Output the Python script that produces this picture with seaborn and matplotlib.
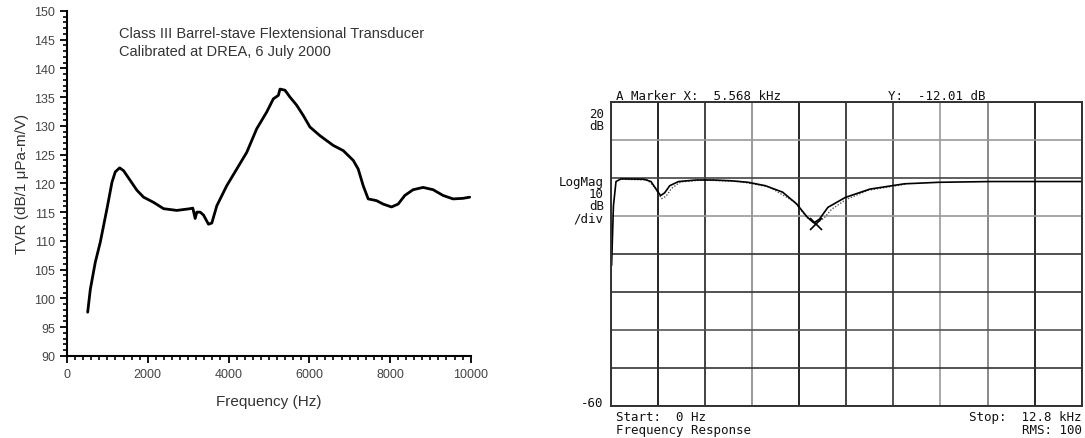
import numpy as np
import pandas as pd
import matplotlib
matplotlib.use('Agg')
import matplotlib.pyplot as plt
import seaborn as sns
from matplotlib.ticker import MultipleLocator

# Courbe TVR mesurée (panneau gauche)
tvr_freq = [511, 577, 700, 824, 989, 1113, 1195, 1303, 1401, 1566, 1731, 1896,
            2143, 2391, 2720, 3050, 3116, 3174, 3215, 3298, 3380, 3504, 3586,
            3710, 3957, 4205, 4452, 4699, 4946, 5111, 5235, 5276, 5400, 5523,
            5688, 5853, 6018, 6265, 6595, 6842, 7090, 7213, 7337, 7461, 7667,
            7832, 8038, 8203, 8368, 8574, 8821, 9069, 9316, 9563, 9810, 9975]
tvr_db = [97.6, 101.6, 106.3, 109.8, 115.6, 120.2, 122.0, 122.7, 122.2, 120.5,
          118.8, 117.6, 116.7, 115.6, 115.3, 115.6, 115.7, 113.9, 115.0, 115.0,
          114.5, 112.9, 113.1, 116.1, 119.6, 122.5, 125.4, 129.5, 132.4, 134.7,
          135.3, 136.4, 136.2, 135.0, 133.6, 131.8, 129.8, 128.3, 126.6, 125.7,
          124.0, 122.5, 119.6, 117.3, 117.0, 116.4, 115.9, 116.4, 117.9, 118.9,
          119.3, 118.9, 117.9, 117.3, 117.4, 117.6]

# Réponse en fréquence de l'analyseur (panneau droit), kHz / dB
resp_khz = [0.0, 0.02, 0.07, 0.14, 0.28, 0.9, 1.09, 1.23, 1.35, 1.46, 1.6, 1.84,
            2.31, 2.79, 3.26, 3.73, 4.2, 4.67, 5.05, 5.34, 5.52, 5.67, 5.9,
            6.37, 7.04, 7.98, 8.92, 10.34, 12.8]
resp_db = [-23.0, -23.0, -7.3, -0.9, -0.2, -0.3, -0.9, -2.9, -4.6, -3.9, -2.0,
           -0.9, -0.5, -0.5, -0.7, -1.1, -2.0, -3.7, -6.8, -10.3, -11.8, -10.8,
           -7.7, -5.1, -2.9, -1.5, -1.1, -0.9, -0.9]

# Trace pointillée (modèle)
model_khz = [0.3, 1.0, 1.2, 1.38, 1.5, 1.65, 1.9, 2.5, 3.5, 4.3, 5.0, 5.3, 5.55,
             5.8, 6.0, 6.4, 7.0, 8.0]
model_db = [-0.3, -0.5, -2.5, -5.4, -4.8, -2.7, -1.0, -0.5, -0.9, -2.3, -6.3,
            -10.0, -12.1, -10.5, -8.2, -5.6, -3.2, -1.6]

marker_khz = 5.568
marker_db = -12.01

x_ticks_khz = [1.28 * k for k in range(11)]
y_ticks_db = [20, 10, 0, -10, -20, -30, -40, -50, -60]

sns.set_style('ticks')
plt.rcParams['font.family'] = ['Liberation Sans', 'DejaVu Sans']

fig = plt.figure(figsize=(10.85, 4.39), dpi=100)

# ---- Panneau gauche ----
ax1 = fig.add_axes([0.0618, 0.187, 0.372, 0.786])
df_tvr = pd.DataFrame({'f': tvr_freq, 'tvr': tvr_db})
sns.lineplot(data=df_tvr, x='f', y='tvr', ax=ax1, color='black', linewidth=2.0)
ax1.set_xlim(0, 10000)
ax1.set_ylim(90, 150)
ax1.xaxis.set_major_locator(MultipleLocator(2000))
ax1.xaxis.set_minor_locator(MultipleLocator(200))
ax1.yaxis.set_major_locator(MultipleLocator(5))
ax1.yaxis.set_minor_locator(MultipleLocator(1))
ax1.tick_params(which='major', length=5, width=1.3, color='black',
                labelsize=9, labelcolor='#444444', direction='out')
ax1.tick_params(which='minor', length=3, width=1.2, color='black', direction='out')
sns.despine(ax=ax1)
for s in ['left', 'bottom']:
    ax1.spines[s].set_linewidth(1.5)
    ax1.spines[s].set_color('black')
ax1.set_xlabel('Frequency (Hz)', fontsize=11, color='#333333', labelpad=10)
ax1.set_ylabel('TVR (dB/1 μPa-m/V)', fontsize=11, color='#333333', labelpad=4)
ax1.text(0.128, 0.955, 'Class III Barrel-stave Flextensional Transducer\nCalibrated at DREA, 6 July 2000',
         transform=ax1.transAxes, fontsize=10.5, color='#333333', va='top',
         linespacing=1.35)

# ---- Panneau droit ----
ax2 = fig.add_axes([0.563, 0.073, 0.434, 0.692])
df_resp = pd.DataFrame({'f': resp_khz, 'db': resp_db})
df_model = pd.DataFrame({'f': model_khz, 'db': model_db})
sns.lineplot(data=df_model, x='f', y='db', ax=ax2, color='#555555',
             linewidth=1.0, linestyle=(0, (1, 1.2)))
sns.lineplot(data=df_resp, x='f', y='db', ax=ax2, color='black', linewidth=1.2)
ax2.plot([marker_khz], [marker_db], marker='x', color='black', markersize=8,
         markeredgewidth=1.2)
ax2.set_xlim(0, 12.8)
ax2.set_ylim(-60, 20)
ax2.set_xticks(x_ticks_khz)
ax2.set_yticks(y_ticks_db)
ax2.grid(True, linewidth=1.2)
ax2.tick_params(length=0, labelbottom=False, labelleft=False)
ax2.set_xlabel('')
ax2.set_ylabel('')
vcols = ['black', 'black', '#222222', '#888888', 'black', '#222222', '#333333',
         '#999999', '#777777', 'black', 'black']
hcols = ['black', '#333333', '#555555', '#333333', '#333333', '#999999',
         '#444444', '#999999', 'black']
for gl, c in zip(ax2.get_xgridlines(), vcols):
    gl.set_color(c)
for gl, c in zip(ax2.get_ygridlines(), hcols[::-1]):
    gl.set_color(c)
for s in ax2.spines.values():
    s.set_visible(True)
    s.set_color('#333333')
    s.set_linewidth(1.4)

mono = dict(family='DejaVu Sans Mono', fontsize=9, color='#111111',
            transform=ax2.transAxes)
ax2.text(0.01, 1.023, 'A Marker X:  5.568 kHz', ha='left', va='center', **mono)
ax2.text(0.588, 1.023, 'Y:  -12.01 dB', ha='left', va='center', **mono)
ax2.text(-0.015, 0.964, '20', ha='right', va='center', **mono)
ax2.text(-0.015, 0.924, 'dB', ha='right', va='center', **mono)
ax2.text(-0.015, 0.740, 'LogMag', ha='right', va='center', **mono)
ax2.text(-0.015, 0.700, '10', ha='right', va='center', **mono)
ax2.text(-0.015, 0.661, 'dB', ha='right', va='center', **mono)
ax2.text(-0.015, 0.618, '/div', ha='right', va='center', **mono)
ax2.text(-0.015, 0.012, '-60', ha='right', va='center', **mono)
ax2.text(0.01, -0.036, 'Start:  0 Hz', ha='left', va='center', **mono)
ax2.text(0.01, -0.079, 'Frequency Response', ha='left', va='center', **mono)
ax2.text(1.0, -0.036, 'Stop:  12.8 kHz', ha='right', va='center', **mono)
ax2.text(1.0, -0.079, 'RMS: 100', ha='right', va='center', **mono)

fig.savefig('out.png', dpi=100)
